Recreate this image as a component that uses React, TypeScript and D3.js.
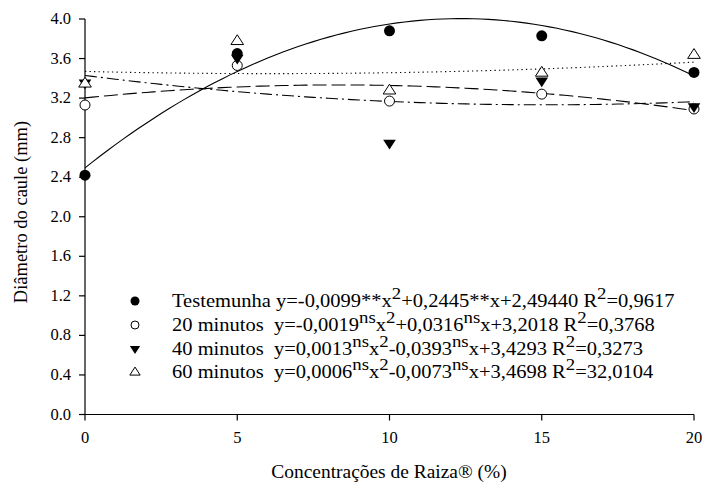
import React from "react";
import * as d3 from "d3";

const xDoses = [0, 5, 10, 15, 20];
const testemunha = [2.42, 3.65, 3.88, 3.83, 3.46];
const min20 = [3.13, 3.53, 3.17, 3.24, 3.09];
const min40 = [3.35, 3.6, 2.74, 3.37, 3.11];
const min60 = [3.35, 3.78, 3.28, 3.46, 3.64];

// fitted quadratic coefficients [a, b, c] for y = a x^2 + b x + c (from legend)
const coefTestemunha = [-0.0099, 0.2445, 2.4944];
const coef20 = [-0.0019, 0.0316, 3.2018];
const coef40 = [0.0013, -0.0393, 3.4293];
const coef60 = [0.0006, -0.0073, 3.4698];

const yTicks = [0, 0.4, 0.8, 1.2, 1.6, 2.0, 2.4, 2.8, 3.2, 3.6, 4.0];
const xTicks = [0, 5, 10, 15, 20];

type Seg = { t: string; sup?: boolean };
const legendRows: { label: string; marker: string; segs: Seg[] }[] = [
  {
    label: "Testemunha ",
    marker: "fcircle",
    segs: [
      { t: "y=-0,0099**x" }, { t: "2", sup: true }, { t: "+0,2445**x+2,49440 R" }, { t: "2", sup: true }, { t: "=0,9617" },
    ],
  },
  {
    label: "20 minutos  ",
    marker: "ocircle",
    segs: [
      { t: "y=-0,0019" }, { t: "ns", sup: true }, { t: "x" }, { t: "2", sup: true }, { t: "+0,0316" }, { t: "ns", sup: true }, { t: "x+3,2018 R" }, { t: "2", sup: true }, { t: "=0,3768" },
    ],
  },
  {
    label: "40 minutos  ",
    marker: "ftri",
    segs: [
      { t: "y=0,0013" }, { t: "ns", sup: true }, { t: "x" }, { t: "2", sup: true }, { t: "-0,0393" }, { t: "ns", sup: true }, { t: "x+3,4293 R" }, { t: "2", sup: true }, { t: "=0,3273" },
    ],
  },
  {
    label: "60 minutos  ",
    marker: "otri",
    segs: [
      { t: "y=0,0006" }, { t: "ns", sup: true }, { t: "x" }, { t: "2", sup: true }, { t: "-0,0073" }, { t: "ns", sup: true }, { t: "x+3,4698 R" }, { t: "2", sup: true }, { t: "=32,0104" },
    ],
  },
];

const W = 705;
const H = 486;
const FONT = "Liberation Serif";

const x = d3.scaleLinear().domain([0, 20]).range([85, 694]);
const y = d3.scaleLinear().domain([0, 4]).range([414.5, 19]);

const ts = (size: number): React.CSSProperties => ({ fontFamily: FONT, fontSize: size + "px" });

function Marker({ kind, cx, cy, r }: { kind: string; cx: number; cy: number; r: number }) {
  if (kind === "fcircle") return <circle cx={cx} cy={cy} r={r} fill="#000" />;
  if (kind === "ocircle") return <circle cx={cx} cy={cy} r={r - 0.5} fill="#fff" stroke="#000" strokeWidth={1} />;
  const s = r * 1.15;
  if (kind === "ftri") {
    const p = `M${cx - s},${cy - s * 0.6} L${cx + s},${cy - s * 0.6} L${cx},${cy + s * 0.95} Z`;
    return <path d={p} fill="#000" />;
  }
  const p = `M${cx - s},${cy + s * 0.6} L${cx + s},${cy + s * 0.6} L${cx},${cy - s * 0.95} Z`;
  return <path d={p} fill="#fff" stroke="#000" strokeWidth={1} />;
}

function curve(coef: number[]) {
  const xs = d3.range(0, 20.01, 0.25);
  const line = d3
    .line<number>()
    .x((d) => x(d))
    .y((d) => y(coef[0] * d * d + coef[1] * d + coef[2]))
    .curve(d3.curveLinear);
  return line(xs) || "";
}

export default function App() {
  const series = [
    { vals: testemunha, kind: "fcircle", coef: coefTestemunha, dash: "" },
    { vals: min20, kind: "ocircle", coef: coef20, dash: "14,5" },
    { vals: min40, kind: "ftri", coef: coef40, dash: "12,4,2,4" },
    { vals: min60, kind: "otri", coef: coef60, dash: "1.3,3.2" },
  ];
  const rowY = [301, 325, 349, 372];
  return (
    <svg
      width={W}
      height={H}
      style={{ position: "absolute", left: 0, top: 0, background: "#fff" }}
    >
      <rect x={0} y={0} width={W} height={H} fill="#fff" />
      {/* axes */}
      <line x1={x(0)} x2={x(0)} y1={y(0)} y2={y(4)} stroke="#000" strokeWidth={1.2} />
      <line x1={x(0)} x2={x(20)} y1={y(0)} y2={y(0)} stroke="#000" strokeWidth={1.2} />
      {yTicks.map((t) => (
        <g key={"y" + t}>
          <line x1={x(0) - 6} x2={x(0)} y1={y(t)} y2={y(t)} stroke="#000" strokeWidth={1.2} />
          <text x={x(0) - 14} y={y(t) + 5} textAnchor="end" style={ts(16.5)}>
            {t.toFixed(1)}
          </text>
        </g>
      ))}
      {xTicks.map((t) => (
        <g key={"x" + t}>
          <line x1={x(t)} x2={x(t)} y1={y(0)} y2={y(0) + 6} stroke="#000" strokeWidth={1.2} />
          <text x={x(t)} y={y(0) + 28} textAnchor="middle" style={ts(16.5)}>
            {t}
          </text>
        </g>
      ))}
      <text transform="translate(389,478) scale(1.08,1)" x={0} y={0} textAnchor="middle" style={ts(18)}>
        Concentrações de Raiza® (%)
      </text>
      <text transform={`translate(27,${212}) rotate(-90)`} textAnchor="middle" style={ts(18.5)}>
        Diâmetro do caule (mm)
      </text>

      {/* curves */}
      {series.map((s, i) => (
        <path
          key={"c" + i}
          d={curve(s.coef)}
          fill="none"
          stroke="#000"
          strokeWidth={1.1}
          strokeDasharray={s.dash || undefined}
        />
      ))}

      {/* points */}
      {series.map((s, i) => (
        <g key={"p" + i}>
          {s.vals.map((v, j) => (
            <Marker key={j} kind={s.kind} cx={x(xDoses[j])} cy={y(v)} r={5.5} />
          ))}
        </g>
      ))}

      {/* legend */}
      {legendRows.map((row, i) => (
        <g key={"l" + i}>
          <Marker kind={row.marker} cx={135} cy={rowY[i]} r={4.5} />
          <text
            transform={`translate(172,${rowY[i] + 6}) scale(1.14,1)`}
            x={0}
            y={0}
            style={{ ...ts(18), whiteSpace: "pre" }}
          >
            <tspan style={ts(18)}>{row.label}</tspan>
            {row.segs.map((sg, k) => {
              const prevSup = k > 0 && row.segs[k - 1].sup;
              let dy = 0;
              if (sg.sup && !prevSup) dy = -8;
              else if (!sg.sup && prevSup) dy = 8;
              return (
                <tspan key={k} dy={dy} style={ts(sg.sup ? 16.5 : 18)}>
                  {sg.t}
                </tspan>
              );
            })}
          </text>
        </g>
      ))}
    </svg>
  );
}
